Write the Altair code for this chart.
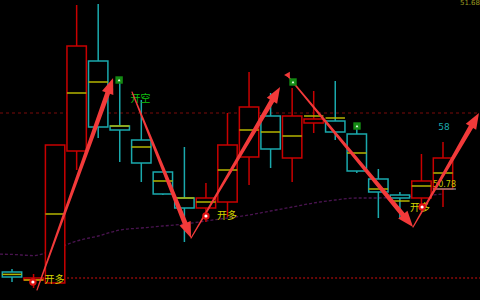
import math
import altair as alt
import pandas as pd

# ---------------- data ----------------
idx = list(range(21))
opens  = [46.40, 46.00, 45.85, 52.45, 56.95, 53.70, 53.00, 51.40, 50.10, 49.60, 49.90,
          52.15, 54.20, 52.10, 53.85, 53.95, 53.30, 51.05, 50.25, 50.10, 50.55]
closes = [46.15, 46.10, 52.75, 57.70, 53.65, 53.50, 51.85, 50.30, 49.60, 50.10, 52.75,
          54.65, 52.55, 54.20, 54.05, 53.40, 51.45, 50.40, 50.10, 50.95, 52.10]
highs  = [46.55, 46.30, 52.75, 59.75, 59.80, 56.05, 55.00, 51.40, 52.65, 50.85, 54.35,
          56.40, 55.35, 55.60, 55.45, 55.95, 53.70, 51.55, 50.40, 52.30, 52.90]
lows   = [45.90, 45.60, 45.85, 51.50, 53.10, 51.90, 50.90, 50.25, 47.90, 48.90, 49.15,
          50.75, 51.60, 50.90, 53.35, 53.00, 51.35, 49.10, 49.10, 49.75, 49.65]
avgs   = [46.28, 46.00, 49.30, 55.35, 55.90, 53.70, 52.65, 50.95, 50.10, 49.90, 51.50,
          53.50, 53.40, 53.20, 54.20, 54.10, 52.35, 50.55, 49.95, 50.70, 51.35]

ma_x = [-0.56, 0, 1, 2, 3, 4, 5, 6, 7, 8, 9, 10, 11, 12, 13, 14, 15, 16, 17, 18, 19, 20]
ma_y = [47.29, 47.28, 47.22, 47.55, 47.95, 48.20, 48.50, 48.60, 48.70, 48.80, 48.95,
        49.10, 49.25, 49.45, 49.65, 49.85, 50.00, 50.10, 50.10, 50.15, 50.20, 50.30]

arrow_x0 = [1.16, 5.57, 8.31, 12.76, 18.61]
arrow_y0 = [45.50, 55.40, 48.10, 56.25, 48.65]
arrow_x1 = [4.69, 8.31, 12.44, 18.61, 21.67]
arrow_y1 = [56.10, 48.10, 55.65, 48.65, 54.35]

buy_x = [0.97, 9.00, 19.03]
buy_y = [45.90, 49.20, 49.65]
buy_lx = [1.97, 9.98, 18.93]
buy_ly = [46.00, 49.20, 49.60]
buy_text = ["开多", "开多", "开多"]

sell_x = [4.97, 13.04, 16.01]
sell_y = [56.00, 55.90, 53.70]
sell_lx = [5.96]
sell_ly = [55.05]
sell_text = ["开空"]

level_hi = 54.35
level_lo = 46.10
level_lo_start = 2.37

X_DOMAIN = [-0.557, 21.717]
Y_DOMAIN = [45.0, 60.0]
W, H = 480, 300

xs = alt.Scale(domain=X_DOMAIN, nice=False, zero=False)
ys = alt.Scale(domain=Y_DOMAIN, nice=False, zero=False)

RED = "#c80000"
CYAN = "#1aa9ad"
YEL = "#b4b400"
ARROW = "#f23a3a"

# ---------------- tables ----------------
c = pd.DataFrame({"i": idx, "o": opens, "c": closes, "h": highs, "l": lows, "a": avgs})
c["top"] = c[["o", "c"]].max(axis=1)
c["bot"] = c[["o", "c"]].min(axis=1)
c["xl"] = c["i"] - 0.45
c["xr"] = c["i"] + 0.45
c["col"] = [RED if cc >= oo else CYAN for oo, cc in zip(opens, closes)]

X = lambda f: alt.X(f, scale=xs, axis=None)
Y = lambda f: alt.Y(f, scale=ys, axis=None)
colr = alt.Color("col:N", scale=None)

wick_up = alt.Chart(c).mark_rule(strokeWidth=1.5).encode(
    x=X("i:Q"), y=Y("h:Q"), y2="top:Q", color=colr)
wick_dn = alt.Chart(c).mark_rule(strokeWidth=1.5).encode(
    x=X("i:Q"), y=Y("bot:Q"), y2="l:Q", color=colr)
body = alt.Chart(c).mark_rect(fill="#000000", strokeWidth=1.5).encode(
    x=X("xl:Q"), x2="xr:Q", y=Y("top:Q"), y2="bot:Q", stroke=alt.Stroke("col:N", scale=None))
avg_line = alt.Chart(c).mark_rule(color=YEL, strokeWidth=1.5).encode(
    x=X("xl:Q"), x2="xr:Q", y=Y("a:Q"))

ma = alt.Chart(pd.DataFrame({"x": ma_x, "y": ma_y})).mark_line(
    color="#4a1450", strokeWidth=1.3, strokeDash=[3, 2], interpolate="monotone").encode(
    x=X("x:Q"), y=Y("y:Q"))

hl = pd.DataFrame({"x": [X_DOMAIN[0]], "x2": [X_DOMAIN[1]], "y": [level_hi]})
hline = alt.Chart(hl).mark_rule(color="#7a0a0a", strokeDash=[3, 3], strokeWidth=1).encode(
    x=X("x:Q"), x2="x2:Q", y=Y("y:Q"))
ll = pd.DataFrame({"x": [level_lo_start], "x2": [X_DOMAIN[1]], "y": [level_lo]})
lline = alt.Chart(ll).mark_rule(color="#8a0a0a", strokeDash=[2, 2], strokeWidth=1.3).encode(
    x=X("x:Q"), x2="x2:Q", y=Y("y:Q"))

# arrows: tapered shafts (trail) + triangular heads rotated along each arrow
ppx = W / (X_DOMAIN[1] - X_DOMAIN[0])
ppy = H / (Y_DOMAIN[1] - Y_DOMAIN[0])
HEAD = 16.0
rows, heads = [], []
for k, (x0, y0, x1, y1) in enumerate(zip(arrow_x0, arrow_y0, arrow_x1, arrow_y1)):
    sx, sy = (x1 - x0) * ppx, -(y1 - y0) * ppy  # screen direction
    L = math.hypot(sx, sy)
    f_base = 1 - (HEAD - 3) / L
    f_mid = 1 - (HEAD / 2) / L
    bx, by = x0 + (x1 - x0) * f_base, y0 + (y1 - y0) * f_base
    mx, my = x0 + (x1 - x0) * f_mid, y0 + (y1 - y0) * f_mid
    rows += [
        {"seg": f"s{k}", "o": 0, "x": x0, "y": y0, "w": 1.2},
        {"seg": f"s{k}", "o": 1, "x": bx, "y": by, "w": 5.0},
    ]
    ang = math.degrees(math.atan2(sx, -sy)) % 360
    heads.append({"x": mx, "y": my, "ang": ang})
shafts = alt.Chart(pd.DataFrame(rows)).mark_trail(color=ARROW).encode(
    x=X("x:Q"), y=Y("y:Q"), detail="seg:N", order="o:Q",
    size=alt.Size("w:Q", scale=None))
heads_m = alt.Chart(pd.DataFrame(heads)).mark_point(
    shape="M0,-1L0.75,1L-0.75,1Z", filled=True, color=ARROW, size=HEAD * HEAD, opacity=1).encode(
    x=X("x:Q"), y=Y("y:Q"), angle=alt.Angle("ang:Q", scale=None))
flag = alt.Chart(pd.DataFrame({"x": [arrow_x0[3]], "y": [arrow_y0[3]]})).mark_point(
    shape="triangle-left", filled=True, color=ARROW, size=45, opacity=1).encode(
    x=X("x:Q"), y=Y("y:Q"))

bdf = pd.DataFrame({"x": buy_x, "y": buy_y})
buy_glow = alt.Chart(bdf).mark_circle(color="#e01010", size=55, opacity=1).encode(x=X("x:Q"), y=Y("y:Q"))
buy_core = alt.Chart(bdf).mark_circle(color="#ffffff", size=10, opacity=1).encode(x=X("x:Q"), y=Y("y:Q"))
buy_lbl = alt.Chart(pd.DataFrame({"x": buy_lx, "y": buy_ly, "t": buy_text})).mark_text(
    color="#d4d400", fontSize=10, font="Noto Sans CJK SC").encode(x=X("x:Q"), y=Y("y:Q"), text="t:N")

sdf = pd.DataFrame({"x": sell_x, "y": sell_y})
sell_box = alt.Chart(sdf).mark_square(color="#138a13", size=55, opacity=1).encode(x=X("x:Q"), y=Y("y:Q"))
sell_core = alt.Chart(sdf).mark_point(shape="triangle-up", filled=True, color="#e8ffe8",
                                      size=8, opacity=1).encode(x=X("x:Q"), y=Y("y:Q"))
sell_lbl = alt.Chart(pd.DataFrame({"x": sell_lx, "y": sell_ly, "t": sell_text})).mark_text(
    color="#10c010", fontSize=10, font="Noto Sans CJK SC").encode(x=X("x:Q"), y=Y("y:Q"), text="t:N")

t58 = alt.Chart(pd.DataFrame({"x": [20.05], "y": [53.65], "t": ["58"]})).mark_text(
    color="#1aa9ad", fontSize=9, font="DejaVu Sans").encode(x=X("x:Q"), y=Y("y:Q"), text="t:N")
tprice = alt.Chart(pd.DataFrame({"x": [19.54], "y": [50.75], "t": ["50.78"]})).mark_text(
    color="#c8c800", fontSize=8, font="DejaVu Sans", align="left").encode(
    x=X("x:Q"), y=Y("y:Q"), text="t:N")
uline = alt.Chart(pd.DataFrame({"x": [19.54], "x2": [20.60], "y": [50.55]})).mark_rule(
    color="#9a9a9a", strokeWidth=1.2).encode(x=X("x:Q"), x2="x2:Q", y=Y("y:Q"))
ttop = alt.Chart(pd.DataFrame({"x": [21.717], "y": [59.70], "t": ["51.68"]})).mark_text(
    color="#9a9a20", fontSize=7, font="DejaVu Sans", align="right", baseline="bottom").encode(
    x=X("x:Q"), y=Y("y:Q"), text="t:N")

chart = alt.layer(
    hline, lline, ma, wick_up, wick_dn, body, avg_line,
    buy_lbl, sell_lbl, t58, tprice, uline, ttop,
    shafts, heads_m, flag, buy_glow, buy_core, sell_box, sell_core,
).properties(
    width=W, height=H, background="#000000", padding=0,
    autosize=alt.AutoSizeParams(type="none"),
).configure_view(stroke=None)

chart.save("out.html", embed_options={"renderer": "svg", "actions": False})
